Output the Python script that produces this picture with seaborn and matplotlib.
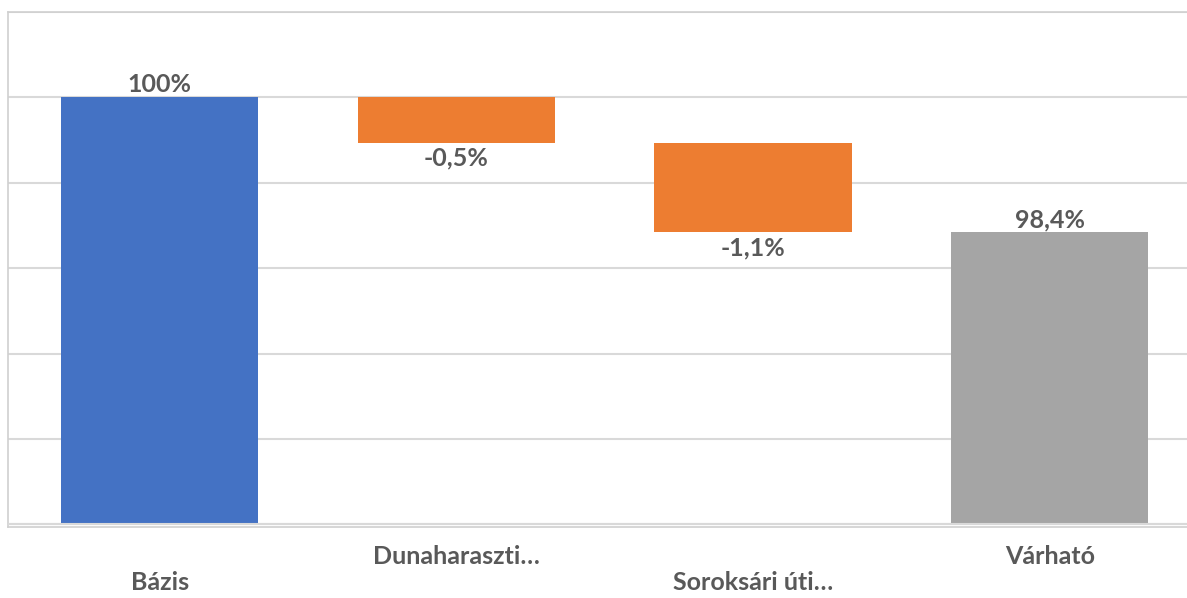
import matplotlib
matplotlib.use("Agg")
import matplotlib.pyplot as plt
import seaborn as sns
import pandas as pd

categories = ["Bázis", "Dunaharaszti…", "Soroksári úti…", "Várható"]
changes = [100.0, -0.53, -1.05, 98.42]
kinds = ["total", "delta", "delta", "total"]
value_labels = ["100%", "-0,5%", "-1,1%", "98,4%"]
colors = ["#4472C4", "#ED7D31", "#ED7D31", "#A5A5A5"]

baseline = 95.0

# compute floating bar tops / bottoms
tops, bottoms = [], []
running = 0.0
for v, k in zip(changes, kinds):
    if k == "total":
        running = v
        tops.append(v)
        bottoms.append(baseline)
    else:
        start = running
        running = running + v
        tops.append(max(start, running))
        bottoms.append(min(start, running))

df = pd.DataFrame({"cat": categories, "top": tops})

sns.set_theme(style="white")
plt.rcParams["font.family"] = ["Lato", "DejaVu Sans"]

fig = plt.figure(figsize=(11.87, 5.98), dpi=100)
ax = fig.add_axes([8 / 1187, 1 - 527 / 598, (1198 - 8) / 1187, (527 - 12) / 598])

sns.barplot(data=df, x="cat", y="top", hue="cat", palette=colors, legend=False,
            width=0.665, ax=ax, saturation=1, zorder=2)

for p, b, t in zip(ax.patches, bottoms, tops):
    p.set_y(b)
    p.set_height(t - b)
    p.set_edgecolor("none")

ax.set_ylim(94.97, 101)
ax.set_xlim(-0.512, 3.5)
ax.set_yticks([95, 96, 97, 98, 99, 100, 101])
ax.set_yticklabels([])
ax.yaxis.grid(True, color="#d9d9d9", linewidth=1.5, zorder=0)
ax.set_axisbelow(True)
ax.axhline(95, color="#d9d9d9", linewidth=1.5, zorder=5)
ax.tick_params(axis="y", length=0)
ax.tick_params(axis="x", length=0, pad=13)

for side in ["left", "top", "bottom", "right"]:
    ax.spines[side].set_color("#d0d0d0")
    ax.spines[side].set_linewidth(1.2)

ax.set_xlabel("")
ax.set_ylabel("")
tick_texts = [("\n" + c) if i % 2 == 0 else c for i, c in enumerate(categories)]
ax.set_xticks(range(len(categories)))
ax.set_xticklabels(tick_texts, fontsize=18, fontweight="bold", color="#595959",
                   linespacing=1.15)

for i, (k, v, lab) in enumerate(zip(kinds, changes, value_labels)):
    if k == "total" or v >= 0:
        ax.annotate(lab, (i, tops[i]), xytext=(0, 1), textcoords="offset points",
                    ha="center", va="bottom", fontsize=18, fontweight="bold",
                    color="#595959")
    else:
        ax.annotate(lab, (i, bottoms[i]), xytext=(0, -3), textcoords="offset points",
                    ha="center", va="top", fontsize=18, fontweight="bold",
                    color="#595959")

fig.savefig("out.png", dpi=100)
